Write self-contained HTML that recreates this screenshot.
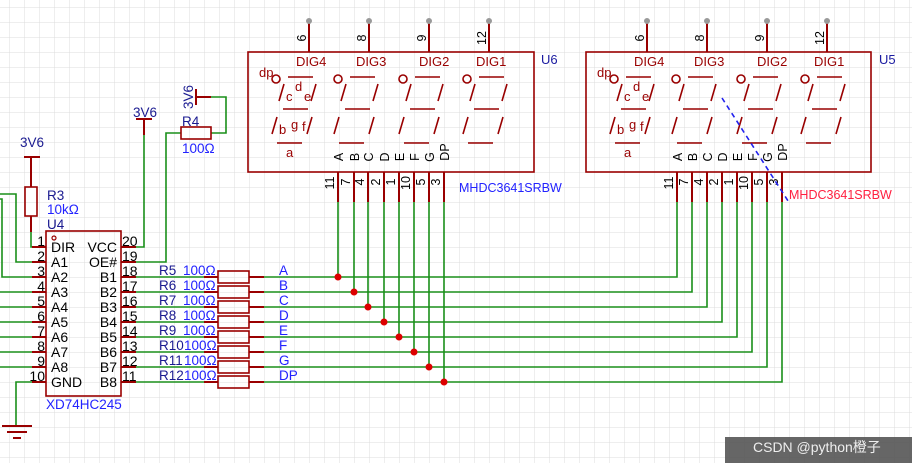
<!DOCTYPE html>
<html><head><meta charset="utf-8"><style>
html,body{margin:0;padding:0;background:#fff;}
svg{display:block;font-family:"Liberation Sans","Noto Sans CJK SC",sans-serif;}
</style></head><body>
<svg width="912" height="463" viewBox="0 0 912 463" xmlns="http://www.w3.org/2000/svg">
<defs>
<pattern id="g" x="9" y="7" width="15" height="15" patternUnits="userSpaceOnUse">
<path d="M0 0H15M0 0V15" stroke="#dcdcdc" stroke-width="1" fill="none"/>
</pattern>
</defs>
<rect width="912" height="463" fill="#fff"/>
<rect width="912" height="463" fill="url(#g)"/>

<!-- ===== U6 ===== -->
<g id="u6" stroke="#990000" stroke-width="2" fill="none">
<rect x="248" y="52" width="286" height="120" stroke-width="1.6"/>
<path d="M309 21V52M369 21V52M429 21V52M489 21V52"/>
<path d="M338 172V202M354 172V202M368 172V202M384 172V202M399 172V202M414 172V202M429 172V202M444 172V202"/>
<g stroke-width="1.6">
<circle cx="276" cy="79" r="4"/><circle cx="338" cy="79" r="4"/><circle cx="403" cy="79" r="4"/><circle cx="467" cy="79" r="4"/>
<path d="M288 77H313M279 101L284 84M311 101L316 84M283 109H308M272 134L277 117M307 134L312 117M277 143H302"/>
<path transform="translate(62,0)" d="M288 77H313M279 101L284 84M311 101L316 84M283 109H308M272 134L277 117M307 134L312 117M277 143H302"/>
<path transform="translate(127,0)" d="M288 77H313M279 101L284 84M311 101L316 84M283 109H308M272 134L277 117M307 134L312 117M277 143H302"/>
<path transform="translate(191,0)" d="M288 77H313M279 101L284 84M311 101L316 84M283 109H308M272 134L277 117M307 134L312 117M277 143H302"/>
</g>
</g>
<g fill="#999"><circle cx="309" cy="21" r="3"/><circle cx="369" cy="21" r="3"/><circle cx="429" cy="21" r="3"/><circle cx="489" cy="21" r="3"/></g>
<g font-size="13" fill="#990000">
<text x="296" y="66">DIG4</text><text x="356" y="66">DIG3</text><text x="419" y="66">DIG2</text><text x="476" y="66">DIG1</text>
<text x="259" y="77">dp</text><text x="295" y="91">d</text><text x="286" y="101">c</text><text x="304" y="101">e</text>
<text x="291" y="129">g</text><text x="279" y="134">b</text><text x="302" y="131">f</text><text x="286" y="157">a</text>
</g>
<g font-size="12.5" fill="#000">
<text transform="translate(306,38) rotate(-90)" text-anchor="middle">6</text>
<text transform="translate(366,38) rotate(-90)" text-anchor="middle">8</text>
<text transform="translate(426,38) rotate(-90)" text-anchor="middle">9</text>
<text transform="translate(486,38) rotate(-90)" text-anchor="middle">12</text>
<text transform="translate(343,157) rotate(-90)" text-anchor="middle">A</text>
<text transform="translate(359,157) rotate(-90)" text-anchor="middle">B</text>
<text transform="translate(373,157) rotate(-90)" text-anchor="middle">C</text>
<text transform="translate(389,157) rotate(-90)" text-anchor="middle">D</text>
<text transform="translate(404,157) rotate(-90)" text-anchor="middle">E</text>
<text transform="translate(419,157) rotate(-90)" text-anchor="middle">F</text>
<text transform="translate(434,157) rotate(-90)" text-anchor="middle">G</text>
<text transform="translate(449,152) rotate(-90)" text-anchor="middle">DP</text>
<text transform="translate(334,183) rotate(-90)" text-anchor="middle">11</text>
<text transform="translate(350,182) rotate(-90)" text-anchor="middle">7</text>
<text transform="translate(364,182) rotate(-90)" text-anchor="middle">4</text>
<text transform="translate(380,182) rotate(-90)" text-anchor="middle">2</text>
<text transform="translate(395,182) rotate(-90)" text-anchor="middle">1</text>
<text transform="translate(410,183) rotate(-90)" text-anchor="middle">10</text>
<text transform="translate(425,182) rotate(-90)" text-anchor="middle">5</text>
<text transform="translate(440,182) rotate(-90)" text-anchor="middle">3</text>
</g>
<text x="541" y="64" font-size="13" fill="#1a1aa0">U6</text>
<text x="459" y="192" font-size="12.5" fill="#2222ff">MHDC3641SRBW</text>

<!-- ===== U5 ===== -->
<g transform="translate(338,0)">
<g stroke="#990000" stroke-width="2" fill="none">
<rect x="248" y="52" width="285" height="120" stroke-width="1.6"/>
<path d="M309 21V52M369 21V52M429 21V52M489 21V52"/>
<path d="M339 172V202M354 172V202M369 172V202M384 172V202M399 172V202M414 172V202M429 172V202M444 172V202"/>
<g stroke-width="1.6">
<circle cx="276" cy="79" r="4"/><circle cx="338" cy="79" r="4"/><circle cx="403" cy="79" r="4"/><circle cx="467" cy="79" r="4"/>
<path d="M288 77H313M279 101L284 84M311 101L316 84M283 109H308M272 134L277 117M307 134L312 117M277 143H302"/>
<path transform="translate(62,0)" d="M288 77H313M279 101L284 84M311 101L316 84M283 109H308M272 134L277 117M307 134L312 117M277 143H302"/>
<path transform="translate(127,0)" d="M288 77H313M279 101L284 84M311 101L316 84M283 109H308M272 134L277 117M307 134L312 117M277 143H302"/>
<path transform="translate(191,0)" d="M288 77H313M279 101L284 84M311 101L316 84M283 109H308M272 134L277 117M307 134L312 117M277 143H302"/>
</g>
</g>
<g fill="#999"><circle cx="309" cy="21" r="3"/><circle cx="369" cy="21" r="3"/><circle cx="429" cy="21" r="3"/><circle cx="489" cy="21" r="3"/></g>
<g font-size="13" fill="#990000">
<text x="296" y="66">DIG4</text><text x="356" y="66">DIG3</text><text x="419" y="66">DIG2</text><text x="476" y="66">DIG1</text>
<text x="259" y="77">dp</text><text x="295" y="91">d</text><text x="286" y="101">c</text><text x="304" y="101">e</text>
<text x="291" y="129">g</text><text x="279" y="134">b</text><text x="302" y="131">f</text><text x="286" y="157">a</text>
</g>
<g font-size="12.5" fill="#000">
<text transform="translate(306,38) rotate(-90)" text-anchor="middle">6</text>
<text transform="translate(366,38) rotate(-90)" text-anchor="middle">8</text>
<text transform="translate(426,38) rotate(-90)" text-anchor="middle">9</text>
<text transform="translate(486,38) rotate(-90)" text-anchor="middle">12</text>
<text transform="translate(344,157) rotate(-90)" text-anchor="middle">A</text>
<text transform="translate(359,157) rotate(-90)" text-anchor="middle">B</text>
<text transform="translate(374,157) rotate(-90)" text-anchor="middle">C</text>
<text transform="translate(389,157) rotate(-90)" text-anchor="middle">D</text>
<text transform="translate(404,157) rotate(-90)" text-anchor="middle">E</text>
<text transform="translate(419,157) rotate(-90)" text-anchor="middle">F</text>
<text transform="translate(434,157) rotate(-90)" text-anchor="middle">G</text>
<text transform="translate(449,152) rotate(-90)" text-anchor="middle">DP</text>
<text transform="translate(335,183) rotate(-90)" text-anchor="middle">11</text>
<text transform="translate(350,182) rotate(-90)" text-anchor="middle">7</text>
<text transform="translate(365,182) rotate(-90)" text-anchor="middle">4</text>
<text transform="translate(380,182) rotate(-90)" text-anchor="middle">2</text>
<text transform="translate(395,182) rotate(-90)" text-anchor="middle">1</text>
<text transform="translate(410,183) rotate(-90)" text-anchor="middle">10</text>
<text transform="translate(425,182) rotate(-90)" text-anchor="middle">5</text>
<text transform="translate(440,182) rotate(-90)" text-anchor="middle">3</text>
</g>
<text x="541" y="64" font-size="13" fill="#1a1aa0">U5</text>
</g>
<text x="789" y="199" font-size="12.5" fill="#ff2040">MHDC3641SRBW</text>
<path d="M722 98L790 204" stroke="#2222ee" stroke-width="1.6" stroke-dasharray="5,4" fill="none"/>

<!-- ===== green wires ===== -->
<g stroke="#1a8f1a" stroke-width="1.6" fill="none">
<path d="M136 277H218M136 292H218M136 307H218M136 322H218M136 337H218M136 352H218M136 367H218M136 382H218"/>
<path d="M264 277H677V202M264 292H692V202M264 307H707V202M264 322H722V202M264 337H737V202M264 352H752V202M264 367H767V202M264 382H782V202"/>
<path d="M338 202V277M354 202V292M368 202V307M384 202V322M399 202V337M414 202V352M429 202V367M444 202V382"/>
<path d="M0 194H16V262H32M0 199H2V277H32M0 292H32M0 307H32M0 322H32M0 337H32M0 352H32M0 367H32"/>
<path d="M32 382H16V426"/>
<path d="M31 232V247H32"/>
<path d="M136 247H144V135"/>
<path d="M136 262H166V133H181M211 133H226V97H203"/>
</g>
<g fill="#dd0000">
<circle cx="338" cy="277" r="3.5"/><circle cx="354" cy="292" r="3.5"/><circle cx="368" cy="307" r="3.5"/><circle cx="384" cy="322" r="3.5"/>
<circle cx="399" cy="337" r="3.5"/><circle cx="414" cy="352" r="3.5"/><circle cx="429" cy="367" r="3.5"/><circle cx="444" cy="382" r="3.5"/>
</g>

<!-- ===== U4 ===== -->
<g stroke="#990000" stroke-width="2" fill="none">
<rect x="46" y="231" width="75" height="165" stroke-width="1.6"/>
<path d="M32 247H46M32 262H46M32 277H46M32 292H46M32 307H46M32 322H46M32 337H46M32 352H46M32 367H46M32 382H46"/>
<path d="M121 247H136M121 262H136M121 277H136M121 292H136M121 307H136M121 322H136M121 337H136M121 352H136M121 367H136M121 382H136"/>
<circle cx="54" cy="238" r="2" stroke-width="1.2"/>
<g stroke-width="1.6">
<rect x="218" y="271" width="31" height="12"/><rect x="218" y="286" width="31" height="12"/>
<rect x="218" y="301" width="31" height="12"/><rect x="218" y="316" width="31" height="12"/>
<rect x="218" y="331" width="31" height="12"/><rect x="218" y="346" width="31" height="12"/>
<rect x="218" y="361" width="31" height="12"/><rect x="218" y="376" width="31" height="12"/>
</g>
<path d="M204 277H218M249 277H264M204 292H218M249 292H264M204 307H218M249 307H264M204 322H218M249 322H264M204 337H218M249 337H264M204 352H218M249 352H264M204 367H218M249 367H264M204 382H218M249 382H264"/>
<path d="M24 157H40M31 157V187M31 216V232"/>
<rect x="25" y="187" width="12" height="29" stroke-width="1.6"/>
<path d="M136 119H152M144 119V135"/>
<rect x="181" y="127" width="30" height="12" stroke-width="1.6"/>
<path d="M196 89V105M196 97H211"/>
<path d="M2 426H32M7 432H27M13 438H21"/>
</g>
<g font-size="14" fill="#000">
<text x="51" y="252">DIR</text><text x="51" y="267">A1</text><text x="51" y="282">A2</text><text x="51" y="297">A3</text>
<text x="51" y="312">A4</text><text x="51" y="327">A5</text><text x="51" y="342">A6</text><text x="51" y="357">A7</text>
<text x="51" y="372">A8</text><text x="51" y="387">GND</text>
<g text-anchor="end">
<text x="117" y="252">VCC</text><text x="117" y="267">OE#</text><text x="117" y="282">B1</text><text x="117" y="297">B2</text>
<text x="117" y="312">B3</text><text x="117" y="327">B4</text><text x="117" y="342">B5</text><text x="117" y="357">B6</text>
<text x="117" y="372">B7</text><text x="117" y="387">B8</text>
<text x="45" y="246">1</text><text x="45" y="261">2</text><text x="45" y="276">3</text><text x="45" y="291">4</text>
<text x="45" y="306">5</text><text x="45" y="321">6</text><text x="45" y="336">7</text><text x="45" y="351">8</text>
<text x="45" y="366">9</text><text x="45" y="381">10</text>
</g>
<text x="122" y="246">20</text><text x="122" y="261">19</text><text x="122" y="276">18</text><text x="122" y="291">17</text>
<text x="122" y="306">16</text><text x="122" y="321">15</text><text x="122" y="336">14</text><text x="122" y="351">13</text>
<text x="122" y="366">12</text><text x="122" y="381">11</text>
</g>
<g font-size="13.5" fill="#1a1a90">
<text x="159" y="275">R5</text><text x="159" y="290">R6</text><text x="159" y="305">R7</text><text x="159" y="320">R8</text>
<text x="159" y="335">R9</text><text x="159" y="350">R10</text><text x="159" y="365">R11</text><text x="159" y="380">R12</text>
<text x="47" y="200">R3</text><text x="47" y="229">U4</text><text x="182" y="126">R4</text>
<text x="20" y="147">3V6</text><text x="133" y="117">3V6</text>
<text transform="translate(193,97) rotate(-90)" text-anchor="middle">3V6</text>
</g>
<g font-size="13.5" fill="#2222ff">
<text x="183" y="275">100Ω</text><text x="183" y="290">100Ω</text><text x="183" y="305">100Ω</text><text x="183" y="320">100Ω</text>
<text x="183" y="335">100Ω</text><text x="184" y="350">100Ω</text><text x="184" y="365">100Ω</text><text x="184" y="380">100Ω</text>
<text x="47" y="214">10kΩ</text><text x="182" y="153">100Ω</text>
<text x="46" y="409">XD74HC245</text>
<text x="279" y="275">A</text><text x="279" y="290">B</text><text x="279" y="305">C</text><text x="279" y="320">D</text>
<text x="279" y="335">E</text><text x="279" y="350">F</text><text x="279" y="365">G</text><text x="279" y="380">DP</text>
</g>

<rect x="725" y="437" width="187" height="26" fill="#555" opacity="0.9"/>
<text x="753" y="452" font-size="14" fill="#eee">CSDN @python橙子</text>
</svg>
</body></html>
